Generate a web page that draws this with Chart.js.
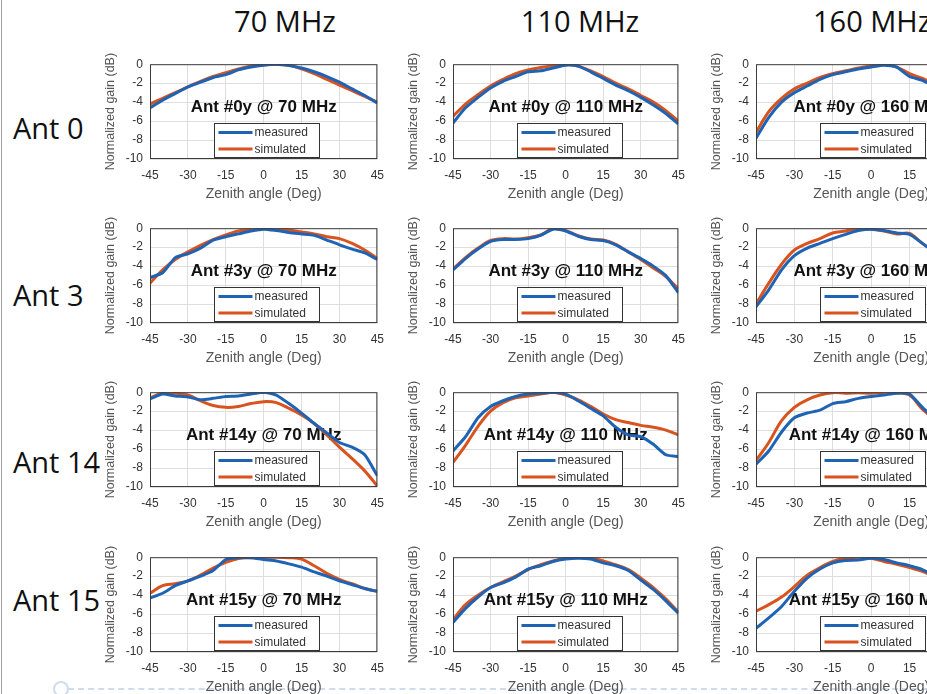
<!DOCTYPE html>
<html>
<head>
<meta charset="utf-8">
<script src="https://cdn.jsdelivr.net/npm/chart.js@4.4.1/dist/chart.umd.min.js"></script>
<style>
  html, body { margin: 0; padding: 0; background: #fff; }
  body { width: 927px; height: 694px; position: relative; overflow: hidden; }
  .edge { position: absolute; left: 1px; top: 0; width: 1px; height: 694px; background: #a0a0a0; }
  .dash { position: absolute; left: 68px; top: 688px; width: 870px; border-top: 2px dashed #cfdcec; }
  .ring { position: absolute; left: 53px; top: 681px; width: 12px; height: 12px; border: 2px solid #cfdcec; border-radius: 50%; }
  .head { position: absolute; font-family: "Open Sans", sans-serif; font-size: 29px; color: #111; white-space: nowrap; line-height: 32px; }
  canvas { position: absolute; }
</style>
</head>
<body>
<div class="edge"></div>
<div class="dash"></div>
<div class="ring"></div>
<script>
// zenith angle samples (deg), shared by every panel
const angles = [-45, -40, -35, -30, -25, -20, -15, -10, -5, 0, 5, 10, 15, 20, 25, 30, 35, 40, 45];
const xTicks = [-45, -30, -15, 0, 15, 30, 45];
const yTicks = [0, -2, -4, -6, -8, -10];

const freqs = [70, 110, 160];
const ants = [0, 3, 14, 15];

// normalized gain (dB)
const ant0_70_meas  = [-4.6, -3.8, -3.1, -2.4, -1.9, -1.4, -1.1, -0.6, -0.3, -0.1, 0, -0.15, -0.4, -0.8, -1.3, -1.9, -2.6, -3.3, -4.1];
const ant0_70_sim   = [-4.2, -3.6, -3.0, -2.4, -1.8, -1.3, -0.9, -0.5, -0.2, -0.05, 0, -0.1, -0.5, -1.0, -1.6, -2.2, -2.8, -3.4, -4.0];
const ant0_110_meas = [-6.2, -4.6, -3.5, -2.5, -1.8, -1.3, -0.8, -0.7, -0.4, -0.1, -0.2, -0.8, -1.5, -2.2, -2.8, -3.5, -4.3, -5.2, -6.3];
const ant0_110_sim  = [-5.5, -4.2, -3.2, -2.3, -1.6, -1.0, -0.6, -0.35, -0.15, 0, -0.2, -0.7, -1.3, -2.0, -2.6, -3.3, -4.0, -4.9, -6.0];
const ant0_160_meas = [-7.8, -5.6, -4.0, -3.0, -2.3, -1.6, -1.1, -0.8, -0.5, -0.3, -0.1, -0.3, -1.3, -1.7, -2.4, -3.2, -4.2, -5.4, -6.8];
const ant0_160_sim  = [-7.2, -5.0, -3.6, -2.6, -2.0, -1.4, -1.0, -0.7, -0.4, -0.15, 0, -0.3, -1.0, -1.5, -2.2, -3.0, -4.0, -5.2, -6.5];

const ant3_70_meas  = [-5.2, -4.7, -3.1, -2.7, -2.1, -1.25, -0.9, -0.6, -0.3, -0.1, -0.25, -0.45, -0.6, -0.75, -1.25, -1.75, -2.2, -2.6, -3.3];
const ant3_70_sim   = [-5.8, -4.4, -3.3, -2.5, -1.8, -1.2, -0.7, -0.3, -0.1, 0, 0, -0.2, -0.4, -0.6, -0.9, -1.1, -1.6, -2.3, -3.2];
const ant3_110_meas = [-4.4, -3.2, -2.2, -1.4, -1.2, -1.2, -1.1, -0.75, -0.1, -0.3, -0.85, -1.2, -1.3, -1.75, -2.5, -3.2, -4.0, -5.0, -6.8];
const ant3_110_sim  = [-4.3, -3.1, -2.1, -1.3, -1.1, -1.15, -1.0, -0.7, -0.05, -0.25, -0.8, -1.15, -1.25, -1.7, -2.5, -3.3, -4.2, -5.1, -6.4];
const ant3_160_meas = [-8.3, -6.5, -4.4, -2.9, -2.1, -1.6, -1.1, -0.65, -0.25, -0.1, -0.25, -0.5, -0.65, -1.6, -2.6, -3.6, -4.8, -6.0, -7.4];
const ant3_160_sim  = [-8.0, -5.8, -3.8, -2.3, -1.6, -1.1, -0.5, -0.3, 0, -0.1, -0.3, -0.6, -0.55, -1.6, -2.5, -3.5, -4.6, -5.8, -7.2];

const ant14_70_meas  = [-0.7, -0.2, -0.4, -0.5, -0.8, -0.65, -0.45, -0.4, -0.2, 0, -0.3, -1.2, -2.2, -3.3, -4.3, -5.3, -5.8, -6.6, -8.8];
const ant14_70_sim   = [-0.6, -0.1, -0.1, -0.3, -0.9, -1.4, -1.6, -1.5, -1.2, -1.0, -1.1, -1.7, -2.4, -3.3, -4.5, -5.8, -7.0, -8.3, -9.9];
const ant14_110_meas = [-6.2, -4.7, -2.7, -1.5, -0.9, -0.45, -0.2, -0.1, 0, -0.2, -0.9, -1.7, -2.5, -3.7, -4.5, -4.7, -5.5, -6.6, -6.8];
const ant14_110_sim  = [-7.4, -5.6, -3.6, -2.0, -1.1, -0.6, -0.4, -0.2, 0, -0.3, -0.8, -1.5, -2.3, -2.9, -3.2, -3.5, -3.7, -4.0, -4.5];
const ant14_160_meas = [-7.6, -6.2, -4.2, -2.7, -2.2, -1.9, -1.2, -1.0, -0.65, -0.45, -0.3, -0.1, -0.2, -1.6, -2.8, -4.0, -5.2, -6.4, -7.6];
const ant14_160_sim  = [-7.2, -5.3, -3.0, -1.6, -0.8, -0.3, -0.05, -0.1, -0.05, -0.1, 0, -0.05, -0.3, -1.8, -2.9, -4.0, -5.1, -6.2, -7.3];

const ant15_70_meas  = [-4.3, -3.8, -3.0, -2.5, -2.0, -1.4, -0.25, -0.05, -0.05, -0.25, -0.4, -0.7, -1.05, -1.55, -2.0, -2.5, -2.9, -3.3, -3.6];
const ant15_70_sim   = [-3.8, -3.0, -2.8, -2.5, -1.9, -1.15, -0.55, -0.15, -0.05, 0, 0, -0.05, -0.2, -0.9, -1.7, -2.35, -2.8, -3.3, -3.6];
const ant15_110_meas = [-6.9, -5.4, -4.2, -3.2, -2.7, -2.1, -1.25, -0.9, -0.45, -0.2, -0.1, -0.2, -0.6, -0.9, -1.4, -2.4, -3.4, -4.6, -5.9];
const ant15_110_sim  = [-6.6, -5.0, -4.0, -3.2, -2.6, -2.0, -1.3, -0.8, -0.4, -0.1, 0, -0.05, -0.4, -0.8, -1.3, -2.2, -3.2, -4.4, -5.8];
const ant15_160_meas = [-7.5, -6.4, -5.2, -3.6, -2.2, -1.25, -0.6, -0.35, -0.3, -0.1, -0.25, -0.6, -0.9, -1.3, -2.0, -2.8, -3.8, -5.0, -6.2];
const ant15_160_sim  = [-5.7, -5.0, -4.2, -3.1, -1.9, -1.1, -0.45, -0.1, 0, -0.1, -0.45, -0.75, -1.1, -1.5, -2.1, -2.9, -3.9, -5.0, -6.2];

const measured = [
  [ant0_70_meas, ant0_110_meas, ant0_160_meas],
  [ant3_70_meas, ant3_110_meas, ant3_160_meas],
  [ant14_70_meas, ant14_110_meas, ant14_160_meas],
  [ant15_70_meas, ant15_110_meas, ant15_160_meas]
];
const simulated = [
  [ant0_70_sim, ant0_110_sim, ant0_160_sim],
  [ant3_70_sim, ant3_110_sim, ant3_160_sim],
  [ant14_70_sim, ant14_110_sim, ant14_160_sim],
  [ant15_70_sim, ant15_110_sim, ant15_160_sim]
];

// layout of the grid (pixels)
const colLeft = [150, 453, 756];
const colWidth = [229, 227, 232];
const rowTop = [58, 222, 386, 551];
const plotH = 101;
const yAxisW = 47, xAxisH = 44, padTop = 8, padRight = 14;

const FONT = '"Liberation Sans", Arial, sans-serif';
const BLUE = '#1f63b4';
const RED = '#d9531e';

// box, in-plot title and legend, MATLAB style
const panelDecor = {
  id: 'panelDecor',
  beforeDatasetsDraw(chart, args, opts) {
    const { ctx, chartArea: a } = chart;
    ctx.save();
    ctx.font = 'bold 17px ' + FONT;
    ctx.fillStyle = '#111';
    ctx.textAlign = 'center';
    ctx.textBaseline = 'alphabetic';
    ctx.fillText(opts.title, a.left + a.width / 2, a.top + 48);
    ctx.restore();
  },
  afterDraw(chart) {
    const { ctx, chartArea: a } = chart;
    ctx.save();
    ctx.strokeStyle = '#3c3c3c';
    ctx.lineWidth = 1;
    ctx.strokeRect(a.left + 0.5, a.top + 0.5, a.width - 1, a.height - 1);
    const bx = Math.round(a.left + 64) + 0.5, by = Math.round(a.top + 59) + 0.5, bw = 105, bh = 34;
    ctx.fillStyle = '#fff';
    ctx.fillRect(bx, by, bw, bh);
    ctx.strokeStyle = '#333';
    ctx.strokeRect(bx, by, bw, bh);
    ctx.font = '12px ' + FONT;
    ctx.textAlign = 'left';
    ctx.textBaseline = 'middle';
    chart.data.datasets.forEach((ds, i) => {
      const y = by + 9 + i * 16.5;
      ctx.strokeStyle = ds.borderColor;
      ctx.lineWidth = 3;
      ctx.beginPath();
      ctx.moveTo(bx + 4, y);
      ctx.lineTo(bx + 38, y);
      ctx.stroke();
      ctx.fillStyle = '#333';
      ctx.fillText(ds.label, bx + 40, y + 0.5);
    });
    ctx.restore();
  }
};

function header(text, x, y, center) {
  const d = document.createElement('div');
  d.className = 'head';
  d.textContent = text;
  d.style.top = (y - 16) + 'px';
  d.style.left = x + 'px';
  if (center) d.style.transform = 'translateX(-50%)';
  document.body.appendChild(d);
}

header(freqs[0] + ' MHz', 285, 21, true);
header(freqs[1] + ' MHz', 580, 21, true);
header(freqs[2] + ' MHz', 813, 21, false);
const rowLabelY = [128, 295, 462, 600];
ants.forEach((a, r) => header('Ant ' + a, 13, rowLabelY[r], false));

ants.forEach((ant, r) => {
  freqs.forEach((f, c) => {
    const cv = document.createElement('canvas');
    const w = yAxisW + colWidth[c] + padRight;
    const h = padTop + plotH + xAxisH;
    cv.width = w; cv.height = h;
    cv.style.left = (colLeft[c] - yAxisW) + 'px';
    cv.style.top = (rowTop[r] - padTop) + 'px';
    document.body.appendChild(cv);

    new Chart(cv, {
      type: 'line',
      data: {
        labels: angles,
        datasets: [
          { label: 'measured', data: angles.map((x, i) => ({ x, y: measured[r][c][i] })),
            borderColor: BLUE, borderWidth: 3, pointRadius: 0, tension: 0.2, fill: false },
          { label: 'simulated', data: angles.map((x, i) => ({ x, y: simulated[r][c][i] })),
            borderColor: RED, borderWidth: 3, pointRadius: 0, tension: 0.35, fill: false }
        ]
      },
      options: {
        responsive: false,
        animation: false,
        layout: { padding: { top: padTop, right: padRight, left: 0, bottom: 0 } },
        plugins: {
          legend: { display: false },
          tooltip: { enabled: false },
          panelDecor: { title: 'Ant #' + ant + 'y @ ' + f + ' MHz' }
        },
        scales: {
          x: {
            type: 'linear', min: -45, max: 45,
            afterBuildTicks: s => { s.ticks = xTicks.map(v => ({ value: v })); },
            afterFit: s => { s.height = xAxisH; },
            grid: { color: '#dedede', drawTicks: false },
            border: { display: false },
            ticks: { padding: 9, color: '#333', font: { size: 12, family: FONT }, maxRotation: 0, autoSkip: false },
            title: { display: true, text: 'Zenith angle (Deg)', color: '#555', font: { size: 14, family: FONT }, padding: 0 }
          },
          y: {
            min: -10, max: 0,
            afterBuildTicks: s => { s.ticks = yTicks.map(v => ({ value: v })); },
            afterFit: s => { s.width = yAxisW; },
            grid: { color: '#dedede', drawTicks: false },
            border: { display: false },
            ticks: { padding: 7, color: '#333', font: { size: 12, family: FONT } },
            title: { display: true, text: 'Normalized gain (dB)', color: '#555', font: { size: 12.5, family: FONT }, padding: 0 }
          }
        }
      },
      plugins: [panelDecor]
    });
  });
});
</script>
</body>
</html>
